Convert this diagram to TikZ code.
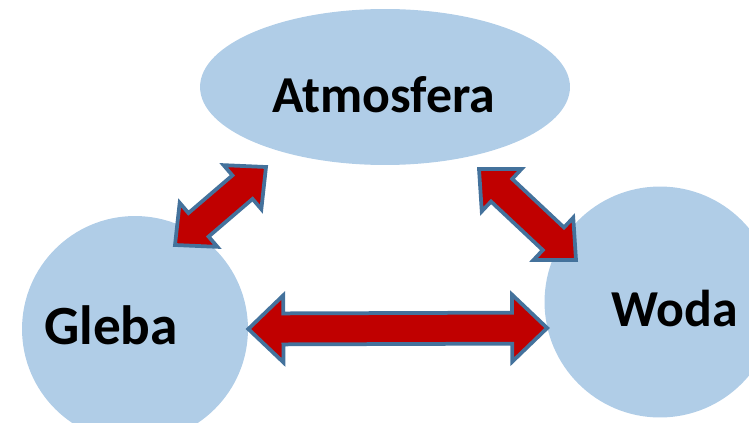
\documentclass[tikz,border=0pt]{standalone}
\usepackage{fontspec}
\setmainfont{Carlito}
\usetikzlibrary{shapes.geometric,calc}

\definecolor{sphereblue}{RGB}{176,205,231}
\definecolor{arrowred}{RGB}{192,0,0}
\definecolor{arrowline}{RGB}{68,114,156}

\begin{document}
\begin{tikzpicture}[x=0.02cm,y=-0.02cm,
  sphere/.style={fill=sphereblue,draw=none,inner sep=0pt},
  sphere text/.style={font=\fontsize{29.5}{32}\selectfont\bfseries},
  head len/.store in=\headlen, head len=0.7cm,
  head half/.store in=\headhalf, head half=0.67cm,
  shaft half/.store in=\shafthalf, shaft half=0.31cm,
  flow/.style={draw=arrowline,fill=arrowred,line width=0.075cm,line join=miter,
    to path={
      -- ($(\tikztostart)!\headlen!(\tikztotarget)!\headhalf!90:(\tikztotarget)$)
      -- ($(\tikztostart)!\headlen!(\tikztotarget)!\shafthalf!90:(\tikztotarget)$)
      -- ($(\tikztotarget)!\headlen!(\tikztostart)!\shafthalf!-90:(\tikztostart)$)
      -- ($(\tikztotarget)!\headlen!(\tikztostart)!\headhalf!-90:(\tikztostart)$)
      -- (\tikztotarget)
      -- ($(\tikztotarget)!\headlen!(\tikztostart)!\headhalf!90:(\tikztostart)$)
      -- ($(\tikztotarget)!\headlen!(\tikztostart)!\shafthalf!90:(\tikztostart)$)
      -- ($(\tikztostart)!\headlen!(\tikztotarget)!\shafthalf!-90:(\tikztotarget)$)
      -- ($(\tikztostart)!\headlen!(\tikztotarget)!\headhalf!-90:(\tikztotarget)$)
      -- cycle}},
  slant/.style={head len=0.62cm,head half=0.58cm}]

  \useasboundingbox (0,0) rectangle (749,422);

  % the three spheres
  \node[sphere,ellipse,minimum width=7.4cm,minimum height=3.12cm] (atm) at (385,87)
    {};
  \node[sphere,circle,minimum size=4.52cm] (gleba) at (135,329) {};
  \node[sphere,circle,minimum size=4.62cm] (woda) at (660,302) {};

  \node[sphere text] (atm-txt) at ($(atm.center)+(-1,8)$) {Atmosfera};
  \node[sphere text,font=\fontsize{31.5}{34}\selectfont\bfseries] (gleba-txt)
    at ($(gleba.center)+(-24,-4)$) {Gleba};
  \node[sphere text] (woda-txt) at ($(woda.center)+(15,7)$) {Woda};

  % ends of the slanted arrows
  \coordinate (gleba-up) at (175,245);
  \coordinate (atm-left) at (266,167);
  \coordinate (atm-right) at (479,169);
  \coordinate (woda-up) at (576,260);

  \path[flow] (gleba.0) to (woda.193.5);
  \path[flow,slant] (gleba-up) to (atm-left);
  \path[flow,slant] (atm-right) to (woda-up);
\end{tikzpicture}
\end{document}
